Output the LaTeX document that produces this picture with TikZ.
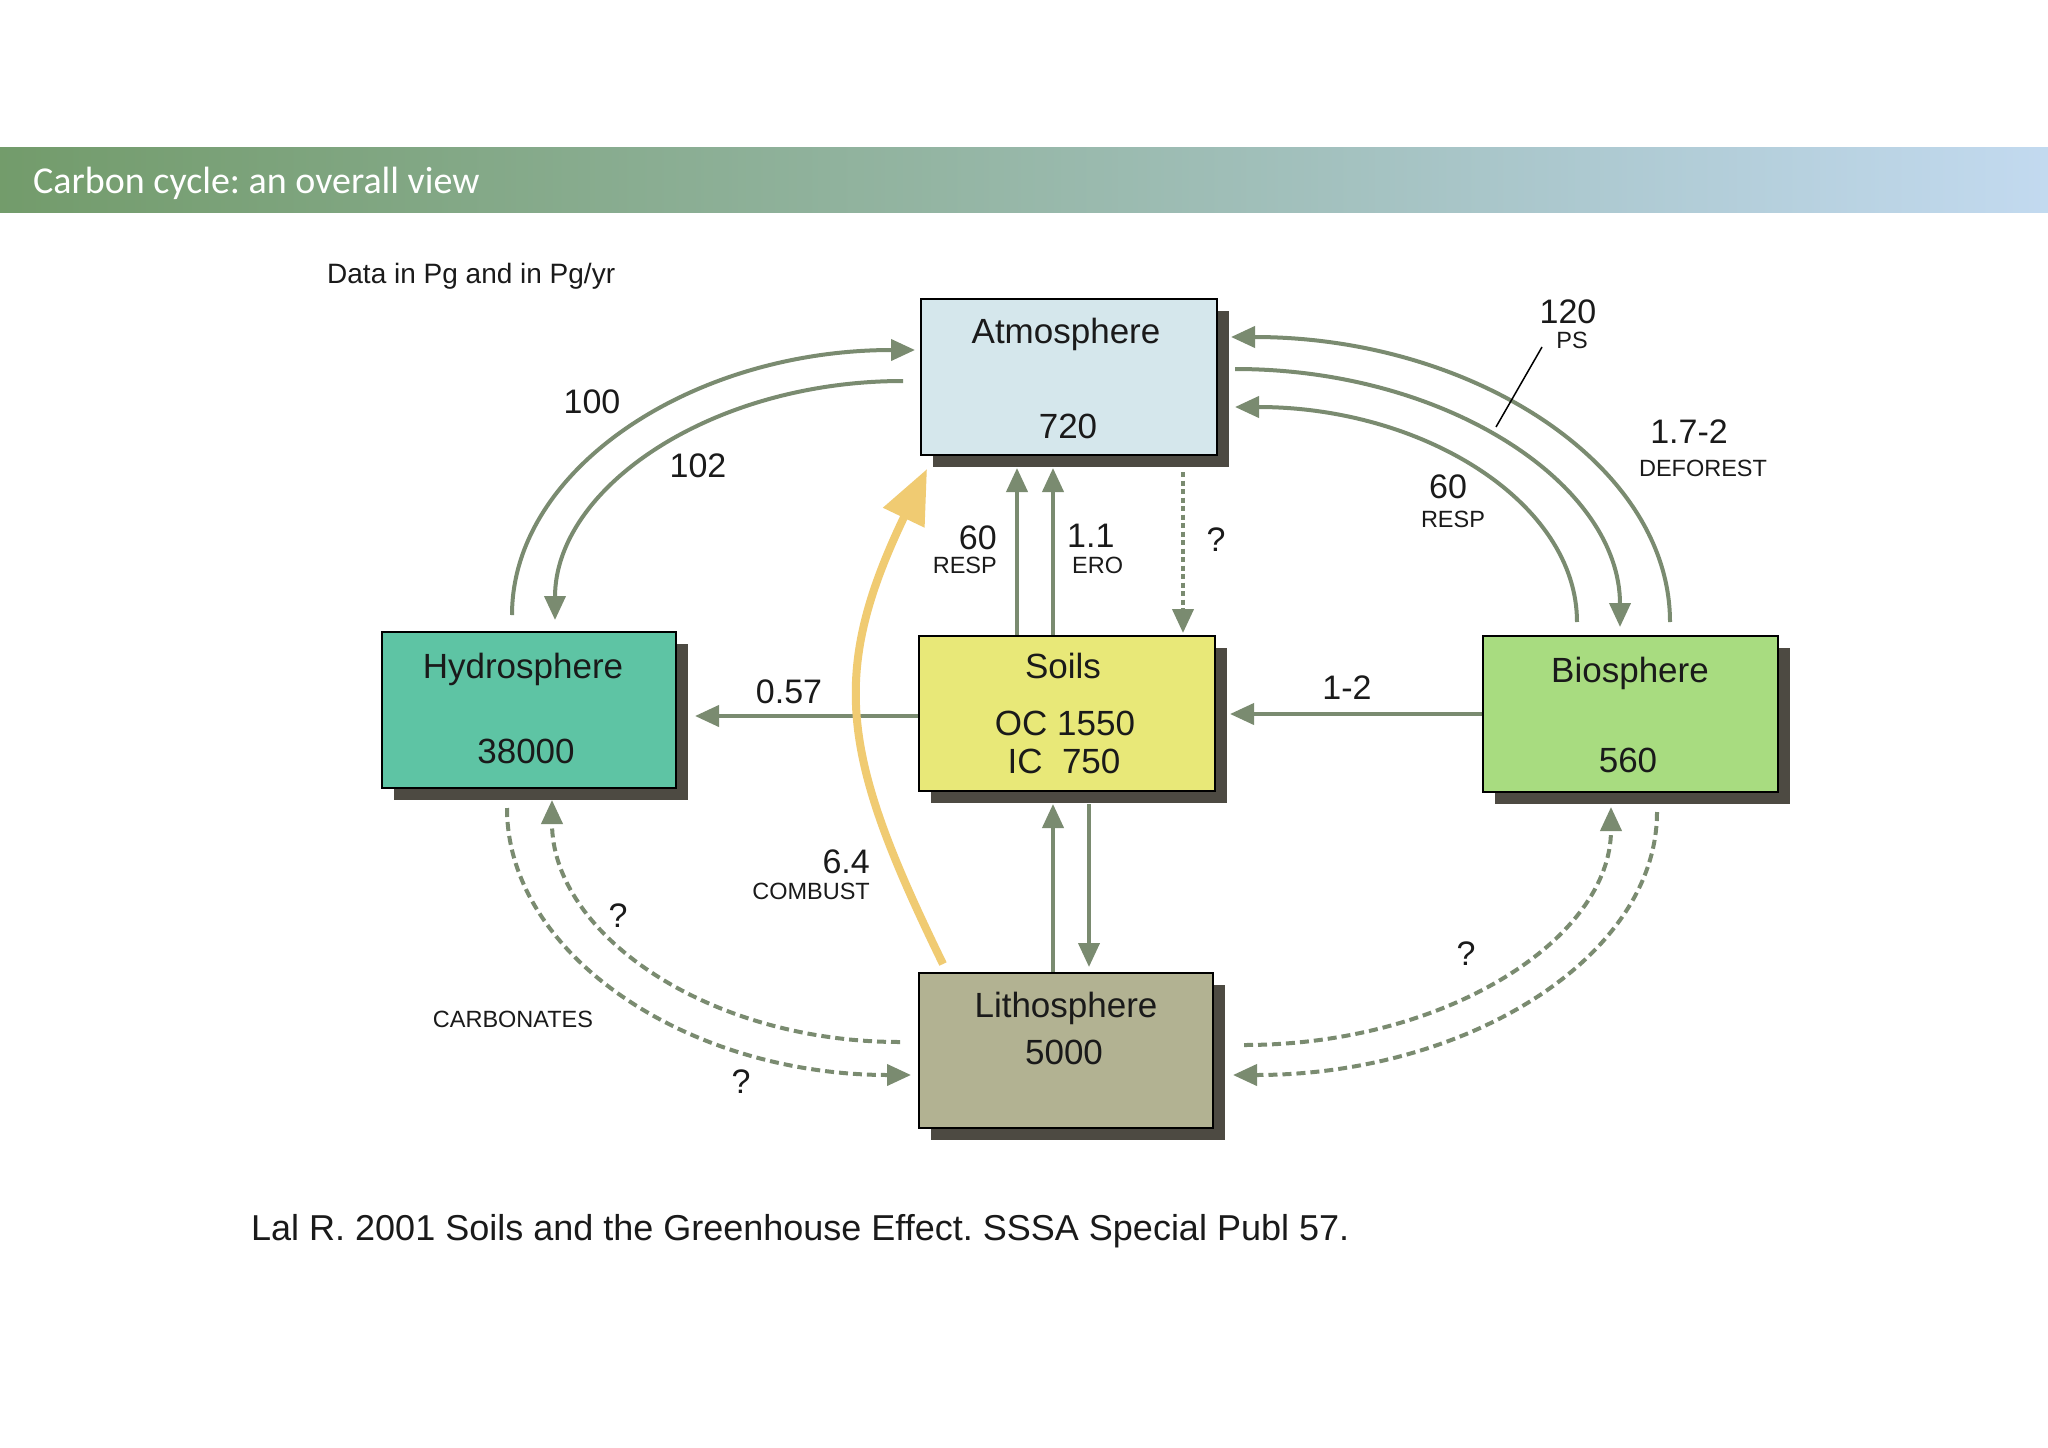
\documentclass[tikz,border=0pt]{standalone}
\usepackage{fontspec}
\setmainfont{Liberation Sans}
\newfontfamily\titlefont{Carlito}
\usetikzlibrary{arrows.meta,shadows}
\definecolor{flowc}{HTML}{7A8B70}
\definecolor{shadowc}{HTML}{4D4A42}
\definecolor{atmc}{HTML}{D5E7EC}
\definecolor{hydc}{HTML}{5EC4A4}
\definecolor{soilc}{HTML}{E8E878}
\definecolor{bioc}{HTML}{A8DC80}
\definecolor{lithc}{HTML}{B2B292}
\definecolor{yelc}{HTML}{F0CB72}
\definecolor{txtc}{HTML}{1A1A1A}
\pgfdeclarehorizontalshading{hdr}{100bp}{rgb(0bp)=(0.31,0.52,0.2); rgb(25bp)=(0.45,0.61,0.42); rgb(48bp)=(0.58,0.71,0.64); rgb(64bp)=(0.68,0.79,0.82); rgb(76bp)=(0.77,0.86,0.95); rgb(90bp)=(0.85,0.91,0.98); rgb(100bp)=(0.91,0.95,0.99)}
\tikzset{
  box/.style={draw=black, line width=1.5pt, inner sep=0pt, anchor=north west,
    drop shadow={shadow xshift=12pt, shadow yshift=-12pt, fill=shadowc, opacity=1}},
  boxtext/.style={anchor=base, text=txtc, inner sep=0pt, font=\fontsize{35}{40}\selectfont},
  num/.style={anchor=base, text=txtc, inner sep=0pt, font=\fontsize{34}{40}\selectfont},
  small/.style={anchor=base, text=txtc, inner sep=0pt, font=\fontsize{23.5}{28}\selectfont},
  flow/.style={draw=flowc, line width=4pt, -{Triangle[length=24pt,width=21pt]}},
  dflow/.style={draw=flowc, line width=4pt, dash pattern=on 9pt off 5pt, -{Triangle[length=24pt,width=21pt]}},
}
\begin{document}
\frenchspacing
\begin{tikzpicture}[x=1pt,y=-1pt]
\useasboundingbox (0,0) rectangle (2048,1448);
\fill[white] (0,0) rectangle (2048,1448);
% header
\shade[shading=hdr] (0,147) rectangle (2048,212);
\node[anchor=base west, inner sep=0pt, text=white, font=\titlefont\fontsize{38}{42}\selectfont] (title) at (33,193) {Carbon cycle: an overall view};
\node[anchor=base west, inner sep=0pt, text=txtc, font=\fontsize{28}{32}\selectfont] (data) at (327,283) {Data in Pg and in Pg/yr};
\node[anchor=base west, inner sep=0pt, text=txtc, font=\fontsize{36}{40}\selectfont] (cite) at (251,1240) {Lal R. 2001 Soils and the Greenhouse Effect. SSSA Special Publ 57.};

% boxes
\node[box, fill=atmc, minimum width=296pt, minimum height=156pt] (atm) at (920,298) {};
\node[box, fill=hydc, minimum width=294pt, minimum height=156pt] (hyd) at (381,631) {};
\node[box, fill=soilc, minimum width=296pt, minimum height=155pt] (soil) at (918,635) {};
\node[box, fill=bioc, minimum width=295pt, minimum height=156pt] (bio) at (1482,635) {};
\node[box, fill=lithc, minimum width=294pt, minimum height=155pt] (lith) at (918,972) {};

\node[boxtext] (atmA) at (1066,343) {Atmosphere};
\node[boxtext] (atmB) at (1068,438) {720};
\node[boxtext] (hydA) at (523,678) {Hydrosphere};
\node[boxtext] (hydB) at (526,763) {38000};
\node[boxtext] (soilA) at (1063,678) {Soils};
\node[boxtext] (soilB) at (1065,735) {OC 1550};
\node[boxtext] (soilC) at (1064,773) {IC\ \ 750};
\node[boxtext] (bioA) at (1630,682) {Biosphere};
\node[boxtext] (bioB) at (1628,772) {560};
\node[boxtext] (lithA) at (1066,1017) {Lithosphere};
\node[boxtext] (lithB) at (1064,1064) {5000};

% connector end points
\coordinate (h1) at (512,615);   \coordinate (a1) at (915,350);
\coordinate (a2) at (903,381);   \coordinate (h2) at (555,620);
\coordinate (s1) at (1017,635);  \coordinate (a3) at (1017,468);
\coordinate (s2) at (1053,635);  \coordinate (a4) at (1053,468);
\coordinate (a5) at (1183,472);  \coordinate (s3) at (1183,633);
\coordinate (s4) at (918,716);   \coordinate (h3) at (695,716);
\coordinate (b1) at (1482,714);  \coordinate (s5) at (1230,714);
\coordinate (l1) at (1053,972);  \coordinate (s6) at (1053,804);
\coordinate (s7) at (1089,804);  \coordinate (l2) at (1089,967);
\coordinate (l3) at (943,964);   \coordinate (a6) at (927,469);
\coordinate (b2) at (1670,622);  \coordinate (a7) at (1231,337);
\coordinate (a8) at (1235,369);  \coordinate (b3) at (1620,627);
\coordinate (b4) at (1577,622);  \coordinate (a9) at (1235,407);
\coordinate (h4) at (507,808);   \coordinate (l4) at (911,1075);
\coordinate (l5) at (900,1042);  \coordinate (h5) at (552,800);
\coordinate (l6) at (1244,1045); \coordinate (b5) at (1611,807);
\coordinate (b6) at (1657,812);  \coordinate (l7) at (1233,1075);
\coordinate (p1) at (1542,347);  \coordinate (p2) at (1496,427);

% hydrosphere <-> atmosphere
\draw[flow] (h1) .. controls (512,469) and (692,350) .. (a1);
\draw[flow] (a2) .. controls (711,381) and (555,488) .. (h2);
% soils <-> atmosphere
\draw[flow] (s1) -- (a3);
\draw[flow] (s2) -- (a4);
\draw[flow, dash pattern=on 5pt off 3.5pt] (a5) -- (s3);
% horizontal
\draw[flow] (s4) -- (h3);
\draw[flow] (b1) -- (s5);
% soils <-> lithosphere
\draw[flow] (l1) -- (s6);
\draw[flow] (s7) -- (l2);
% combustion
\draw[draw=yelc, line width=8pt, -{Triangle[length=54pt,width=44pt]}] (l3) .. controls (842,757) and (828,676) .. (a6);
% biosphere <-> atmosphere
\draw[flow] (b2) .. controls (1670,465) and (1473,337) .. (a7);
\draw[flow] (a8) .. controls (1448,369) and (1620,485) .. (b3);
\draw[flow] (b4) .. controls (1577,503) and (1424,407) .. (a9);
\draw[black, line width=1.5pt] (p1) -- (p2);
% dashed lower
\draw[dflow] (h4) .. controls (507,955) and (688,1075) .. (l4);
\draw[dflow] (l5) .. controls (708,1042) and (552,934) .. (h5);
\draw[dflow] (l6) .. controls (1447,1045) and (1611,938) .. (b5);
\draw[dflow] (b6) .. controls (1657,957) and (1467,1075) .. (l7);

% labels
\node[num] (n100) at (592,413) {100};
\node[num] (n102) at (698,477) {102};
\node[num, anchor=base east] (n60a) at (997,549) {60};
\node[small, anchor=base east] (r60a) at (997,573) {RESP};
\node[num, anchor=base west] (n11) at (1067,547) {1.1};
\node[small, anchor=base west] (ero) at (1072,573) {ERO};
\node[num] (q1) at (1216,551) {?};
\node[num] (n120) at (1568,323) {120};
\node[small] (ps) at (1572,348) {PS};
\node[num] (n17) at (1689,443) {1.7-2};
\node[small] (defo) at (1703,476) {DEFOREST};
\node[num] (n60b) at (1448,498) {60};
\node[small] (r60b) at (1453,527) {RESP};
\node[num] (n057) at (789,703) {0.57};
\node[num] (n12) at (1347,699) {1-2};
\node[num, anchor=base east] (n64) at (870,873) {6.4};
\node[small, anchor=base east] (comb) at (870,899) {COMBUST};
\node[num] (q2) at (618,927) {?};
\node[num] (q3) at (741,1093) {?};
\node[small] (carb) at (513,1027) {CARBONATES};
\node[num] (q4) at (1466,965) {?};
\end{tikzpicture}
\end{document}
